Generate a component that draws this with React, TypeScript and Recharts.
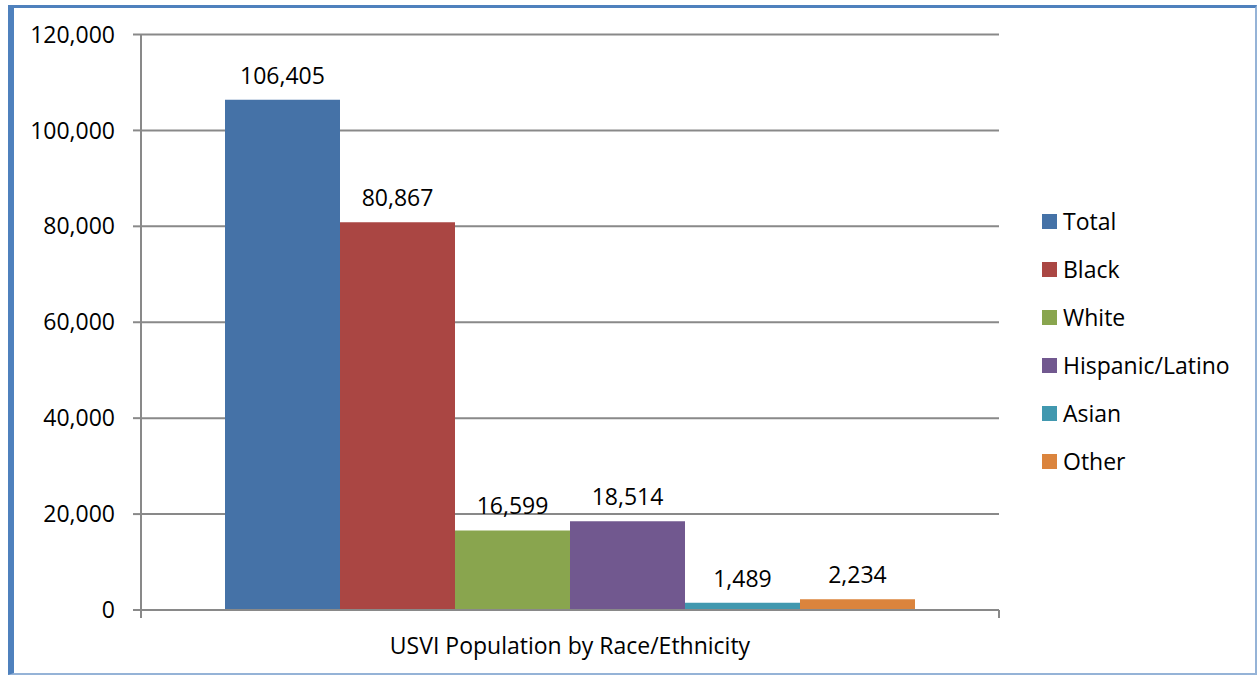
import { BarChart, Bar, XAxis, YAxis, CartesianGrid, Legend, LabelList } from "recharts";

const categories = ["USVI Population by Race/Ethnicity"];
const seriesNames = ["Total", "Black", "White", "Hispanic/Latino", "Asian", "Other"];
const seriesValues = [106405, 80867, 16599, 18514, 1489, 2234];
const seriesColors = ["#4572A7", "#AA4643", "#89A54E", "#71588F", "#4198AF", "#DB843D"];
const yTicks = [0, 20000, 40000, 60000, 80000, 100000, 120000];

const data = categories.map((name) => {
  const row: Record<string, string | number> = { name };
  seriesNames.forEach((s, i) => {
    row[s] = seriesValues[i];
  });
  return row;
});

const FONT = "'Open Sans', sans-serif";
const FS = 23;
const AXIS = "#898989";
const fmt = (v: number) => v.toLocaleString("en-US");

const CategoryTick = (props: any) => {
  const { x, y, payload, width } = props;
  const half = payload?.offset ?? (width ? width / 2 : 0);
  return (
    <g>
      <line x1={x - half} x2={x - half} y1={y - 8} y2={y} stroke={AXIS} strokeWidth={2} />
      <line x1={x + half} x2={x + half} y1={y - 8} y2={y} stroke={AXIS} strokeWidth={2} />
      <text x={x} y={y + 27} textAnchor="middle" dominantBaseline="central" fill="#000" fontSize={FS} fontFamily={FONT}>
        {payload.value}
      </text>
    </g>
  );
};

const LegendBox = () => (
  <div style={{ fontFamily: FONT, fontSize: FS, color: "#000" }}>
    {seriesNames.map((s, i) => (
      <div key={s} style={{ display: "flex", alignItems: "center", height: 48 }}>
        <span style={{ width: 15, height: 15, background: seriesColors[i], display: "inline-block", marginRight: 6 }} />
        <span>{s}</span>
      </div>
    ))}
  </div>
);

export default function App() {
  return (
    <div style={{ position: "absolute", left: 0, top: 0, width: 1257, height: 675, background: "#fff" }}>
      <div
        style={{
          position: "absolute",
          left: 8,
          top: 5,
          width: 1257 - 8,
          height: 675 - 5,
          boxSizing: "border-box",
          borderLeft: "6px solid #4F81BD",
          borderTop: "3px solid #4F81BD",
          borderRight: "2px solid #95B3D7",
          borderBottom: "2px solid #95B3D7",
        }}
      />
      <div style={{ position: "absolute", left: 0, top: 0 }}>
        <BarChart
          width={1257}
          height={675}
          data={data}
          margin={{ top: 34.5, right: 258, bottom: 15, left: 0 }}
          barSize={115}
          barGap={0}
        >
          <CartesianGrid horizontal vertical={false} stroke={AXIS} strokeWidth={2} strokeDasharray="" />
          <XAxis
            dataKey="name"
            height={50}
            axisLine={{ stroke: AXIS, strokeWidth: 2 }}
            tickLine={false}
            tickSize={8}
            tickMargin={0}
            tick={<CategoryTick />}
          />
          <YAxis
            width={141}
            domain={[0, 120000]}
            ticks={yTicks}
            interval={0}
            tickFormatter={fmt}
            axisLine={{ stroke: AXIS, strokeWidth: 2 }}
            tickLine={{ stroke: AXIS, strokeWidth: 2 }}
            tickSize={8}
            tickMargin={18}
            tick={{ fill: "#000", fontSize: FS, fontFamily: FONT }}
          />
          {seriesNames.map((s, i) => (
            <Bar key={s} dataKey={s} fill={seriesColors[i]} isAnimationActive={false}>
              <LabelList
                dataKey={s}
                position="top"
                offset={16}
                formatter={(v: any) => fmt(Number(v))}
                fill="#000"
                fontSize={FS}
                fontFamily={FONT}
              />
            </Bar>
          ))}
          <Legend
            layout="vertical"
            verticalAlign="middle"
            align="center"
            content={<LegendBox />}
            wrapperStyle={{ left: 1042, top: 197, width: 215, height: 290 }}
          />
        </BarChart>
      </div>
    </div>
  );
}
